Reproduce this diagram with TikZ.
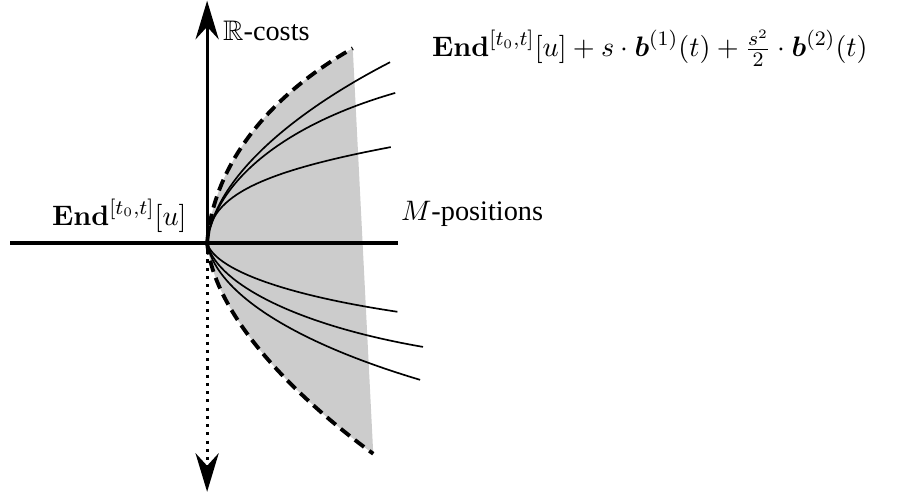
\documentclass[tikz,border=0pt]{standalone}
\usepackage{amsmath}
\usepackage{amssymb}
\usepackage[no-math]{fontspec}
\setmainfont{Liberation Serif}
\usetikzlibrary{arrows.meta}

\begin{document}
\begin{tikzpicture}[
      font=\fontsize{11}{13}\selectfont,
      axis/.style={line width=1.2pt},
      arr/.style={-{Stealth[length=15pt, width=9pt]}},
      bound/.style={line width=1.5pt, dash pattern=on 4.5pt off 2.5pt},
      traj/.style={line width=0.65pt},
      region/.style={fill=gray!40, draw=none}
    ]
    \useasboundingbox (-2.83,-3.44) rectangle (9.44,3.32);
    %% points
    \coordinate (O) at (0,0);
    \coordinate (ytop) at (0,3.31);
    \coordinate (ybot) at (0,-3.40);
    \coordinate (xl) at (-2.69,0);
    \coordinate (xr) at (2.61,0);
    \coordinate (ub) at (1.99,2.66);
    \coordinate (lb) at (2.27,-2.88);
    %% reachable region
    \fill[region] (O) .. controls (0.1,1.2) and (1.0,2.1) .. (ub) -- (lb)
      .. controls (1.2,-2.1) and (0.1,-1.0) .. (O) -- cycle;
    %% axes
    \draw[axis] (xl) -- (xr);
    \draw[axis, arr] (O) -- (ytop);
    \draw[axis, arr, dotted] (O) -- (ybot);
    %% boundary
    \draw[bound] (O) .. controls (0.1,1.2) and (1.0,2.1) .. (ub);
    \draw[bound] (O) .. controls (0.1,-1.0) and (1.2,-2.1) .. (lb);
    %% upper trajectories
    \coordinate (u1) at (2.50,2.47);
    \coordinate (u2) at (2.57,2.05);
    \coordinate (u3) at (2.51,1.31);
    \draw[traj] (O) .. controls (0.1,0.9) and (1.2,1.8) .. (u1);
    \draw[traj] (O) .. controls (0.1,0.8) and (1.0,1.6) .. (u2);
    \draw[traj] (O) .. controls (0.02,0.6) and (0.6,0.95) .. (u3);
    %% lower trajectories
    \coordinate (l1) at (2.60,-0.94);
    \coordinate (l2) at (2.95,-1.42);
    \coordinate (l3) at (2.91,-1.87);
    \draw[traj] (O) .. controls (0.1,-0.35) and (1.0,-0.7) .. (l1);
    \draw[traj] (O) .. controls (0.1,-0.5) and (1.1,-1.1) .. (l2);
    \draw[traj] (O) .. controls (0.1,-0.6) and (1.0,-1.3) .. (l3);
    %% labels
    \node (costs) at (0.81,2.90) {$\mathbb{R}$-costs};
    \node (pos) at (3.62,0.40) {$M$-positions};
    \node (endu) at (-1.20,0.37) {$\mathbf{End}^{[t_0,t]}[u]$};
    \node (expan) at (6.05,2.66) {$\mathbf{End}^{[t_0,t]}[u] + s\cdot\boldsymbol{b}^{(1)}(t) + \frac{s^2}{2}\cdot\boldsymbol{b}^{(2)}(t)$};
  \end{tikzpicture}
\end{document}
